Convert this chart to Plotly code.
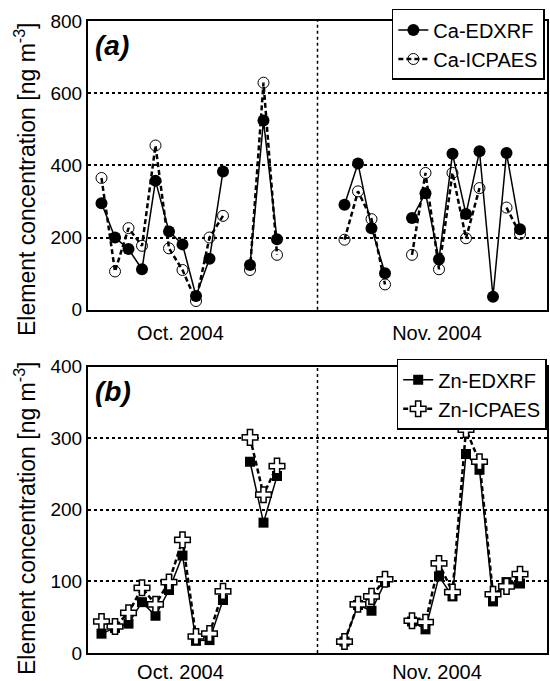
import plotly.graph_objects as go
from plotly.subplots import make_subplots

# sample positions (index along the campaign); None = no sample
x_pos = list(range(1, 33))
month_labels = ["Oct. 2004", "Nov. 2004"]
month_label_pos = [6.85, 25.85]
month_divider = 17
y_title = "Element concentration [ng m<sup>-3</sup>]"

ca_edxrf = [295, 200, 168, 112, 357, 217, 181, 38, 141, 383, None, 124, 524, 195,
            None, None, None, None,
            291, 405, 226, 101, None, 254, 323, 140, 432, 265, 439, 36, 434, 223]
ca_icpaes = [365, 106, 226, 177, 455, 170, 110, 24, 200, 260, None, 110, 629, 152,
             None, None, None, None,
             194, 328, 251, 70, None, 152, 379, 112, 379, 198, 337, None, 283, 210]
zn_edxrf = [27, 35, 41, 71, 52, 88, 136, 17, 18, 74, None, 267, 182, 247,
            None, None, None, None,
            16, 67, 59, 99, None, 44, 33, 107, 79, 278, 256, 72, 99, 97]
zn_icpaes = [44, 37, 56, 91, 68, 99, 158, 23, 27, 86, None, 301, 221, 261,
             None, None, None, None,
             16, 68, 79, 103, None, 45, 43, 125, 85, 312, 267, 82, 93, 110]

FONT = "Liberation Sans, Arial, sans-serif"
DASH = "5px,3px"

fig = make_subplots(rows=2, cols=1, vertical_spacing=0.09)

fig.add_trace(go.Scatter(x=x_pos, y=ca_edxrf, name="Ca-EDXRF", mode="lines+markers",
                         line=dict(color="black", width=1.5),
                         marker=dict(symbol="circle", size=12, color="black"),
                         legend="legend"), row=1, col=1)
fig.add_trace(go.Scatter(x=x_pos, y=ca_icpaes, name="Ca-ICPAES", mode="lines+markers",
                         line=dict(color="black", width=2.5, dash=DASH),
                         marker=dict(symbol="circle-open", size=11, color="black",
                                     line=dict(width=1)),
                         legend="legend"), row=1, col=1)
fig.add_trace(go.Scatter(x=x_pos, y=zn_edxrf, name="Zn-EDXRF", mode="lines+markers",
                         line=dict(color="black", width=1.5),
                         marker=dict(symbol="square", size=10, color="black"),
                         legend="legend2"), row=2, col=1)
fig.add_trace(go.Scatter(x=x_pos, y=zn_icpaes, name="Zn-ICPAES", mode="lines+markers",
                         line=dict(color="black", width=2.5, dash=DASH),
                         marker=dict(symbol="cross", size=13, color="white",
                                     line=dict(width=1.5, color="black")),
                         legend="legend2"), row=2, col=1)

axis_common = dict(showline=True, mirror=True, linecolor="black", linewidth=2,
                   zeroline=False, automargin=False,
                   tickfont=dict(family=FONT, size=19, color="black"))

for r, standoff in ((1, 4), (2, 0)):
    fig.update_xaxes(range=[0, 34], tickvals=month_label_pos, ticktext=month_labels,
                     ticks="", showgrid=False, ticklabelstandoff=standoff,
                     tickfont=dict(family=FONT, size=20, color="black"),
                     showline=True, mirror=True, linecolor="black", linewidth=2,
                     zeroline=False, automargin=False, row=r, col=1)

fig.update_yaxes(axis_common, range=[0, 800], dtick=200, row=1, col=1)
fig.update_yaxes(axis_common, range=[0, 400], dtick=100, row=2, col=1)
for r in (1, 2):
    fig.update_yaxes(showgrid=True, gridcolor="black", gridwidth=1.5, griddash="dot",
                     ticks="", row=r, col=1)

fig.update_layout(
    width=550, height=681,
    margin=dict(l=88, r=3, t=21, b=28),
    plot_bgcolor="white", paper_bgcolor="white",
    font=dict(family=FONT, color="black"),
    yaxis=dict(domain=[0.5432, 1.0]),
    yaxis2=dict(domain=[0.0, 0.4533]),
    legend=dict(x=0.662, y=1.019, xanchor="left", yanchor="top",
                bgcolor="white", bordercolor="black", borderwidth=1.5,
                font=dict(family=FONT, size=20, color="black"),
                tracegroupgap=0, itemwidth=30),
    legend2=dict(x=0.6725, y=0.4655, xanchor="left", yanchor="top",
                 bgcolor="white", bordercolor="black", borderwidth=1.5,
                 font=dict(family=FONT, size=20, color="black"),
                 tracegroupgap=0, itemwidth=30),
    showlegend=True,
)

# y-axis titles (placed as rotated annotations to match the original offsets)
for yc in (0.75, 0.2136):
    fig.add_annotation(text=y_title, xref="paper", yref="paper", x=-0.1373, y=yc,
                       xanchor="center", yanchor="middle", textangle=-90, showarrow=False,
                       font=dict(family=FONT, size=23, color="black"))

for xr, yr in (("x", "y"), ("x2", "y2")):
    fig.add_shape(type="line", xref=xr, yref=yr + " domain", x0=month_divider, x1=month_divider,
                  y0=0, y1=1, line=dict(color="black", width=1.5, dash="dot"))

for txt, xr, yr in (("(a)", "x domain", "y domain"), ("(b)", "x2 domain", "y2 domain")):
    fig.add_annotation(text="<b><i>" + txt + "</i></b>", xref=xr, yref=yr, x=0.01, y=0.975,
                       xanchor="left", yanchor="top", showarrow=False,
                       font=dict(family=FONT, size=28, color="black"))

fig.write_html("out.html")
